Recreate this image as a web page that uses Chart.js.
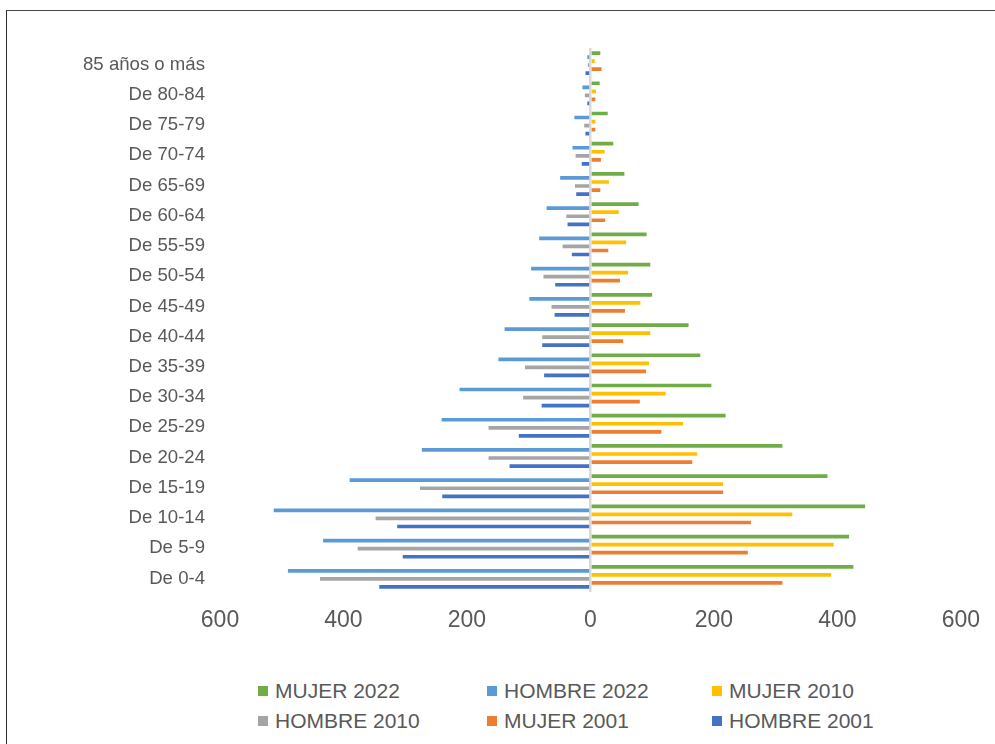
<!DOCTYPE html>
<html>
<head>
<meta charset="utf-8">
<script src="https://cdn.jsdelivr.net/npm/chart.js@4.4.0/dist/chart.umd.min.js"></script>
<style>
  html, body { margin: 0; padding: 0; width: 995px; height: 744px; overflow: hidden; background: #fff; }
  #frame { position: absolute; left: 6px; top: 10px; width: 1100px; height: 900px;
           border-left: 1.5px solid #2b2b2b; border-top: 1.5px solid #4a4a4a; }
  #wrap { position: absolute; left: 0; top: 0; width: 995px; height: 650px; }
  #legend { position: absolute; left: 0; top: 0; font-family: "Liberation Sans", Arial, sans-serif;
            font-size: 21px; color: #595959; }
  .item { position: absolute; display: flex; align-items: center; white-space: nowrap; height: 26px; }
  .box { width: 10px; height: 10px; margin-right: 7px; }
</style>
</head>
<body>
<div id="frame"></div>
<div id="wrap"><canvas id="c" width="995" height="650"></canvas></div>
<div id="legend"></div>
<script>
const categories = ['85 años o más','De 80-84','De 75-79','De 70-74','De 65-69','De 60-64','De 55-59','De 50-54','De 45-49','De 40-44','De 35-39','De 30-34','De 25-29','De 20-24','De 15-19','De 10-14','De 5-9','De 0-4'];

const mujer2022  = [16,15,28,37,55,78,91,97,100,159,178,196,219,311,384,445,419,426];
const hombre2022 = [5,13,26,29,49,71,83,96,99,139,149,212,241,273,390,513,433,490];
const mujer2010  = [7,9,8,23,30,46,58,61,81,97,95,122,150,173,215,327,394,390];
const hombre2010 = [4,9,10,24,25,39,45,76,63,78,106,109,165,165,276,348,377,438];
const mujer2001  = [18,8,8,17,16,24,29,48,56,53,90,80,115,165,215,260,255,311];
const hombre2001 = [8,5,8,14,23,37,30,57,58,78,75,79,116,131,240,313,304,342];

const xTicks = [-600,-400,-200,0,200,400,600];

const seriesNames = ['MUJER 2022','HOMBRE 2022','MUJER 2010','HOMBRE 2010','MUJER 2001','HOMBRE 2001'];
const seriesColors = ['#70AD47','#5B9BD5','#FFC000','#A5A5A5','#ED7D31','#4472C4'];
const seriesValues = [
  mujer2022,
  hombre2022.map(v => -v),
  mujer2010,
  hombre2010.map(v => -v),
  mujer2001,
  hombre2001.map(v => -v)
];

const textColor = '#595959';
const fontFam = '"Liberation Sans", Arial, sans-serif';

new Chart(document.getElementById('c'), {
  type: 'bar',
  data: {
    labels: categories,
    datasets: seriesNames.map((n, i) => ({
      label: n,
      data: seriesValues[i],
      backgroundColor: seriesColors[i],
      borderWidth: 0,
      categoryPercentage: 0.8,
      barPercentage: 0.92
    }))
  },
  options: {
    indexAxis: 'y',
    responsive: false,
    animation: false,
    layout: { padding: { left: 0, top: 48, right: 34, bottom: 0 } },
    plugins: { legend: { display: false }, tooltip: { enabled: false } },
    scales: {
      x: {
        min: -600, max: 600,
        afterBuildTicks: s => { s.ticks = xTicks.map(v => ({ value: v })); },
        afterFit: s => { s.height = 58; },
        border: { display: false },
        grid: {
          drawTicks: false,
          color: c => (c.tick && c.tick.value === 0) ? '#D9D9D9' : 'rgba(0,0,0,0)',
          lineWidth: c => (c.tick && c.tick.value === 0) ? 2.5 : 0
        },
        ticks: {
          padding: 15,
          color: textColor,
          font: { family: fontFam, size: 23 },
          maxRotation: 0,
          callback: v => Math.abs(v).toString()
        }
      },
      y: {
        afterFit: s => { s.width = 220; },
        border: { display: false },
        grid: { display: false, drawTicks: false },
        ticks: {
          padding: 15,
          labelOffset: 1.5,
          color: textColor,
          font: { family: fontFam, size: 18.6 },
          autoSkip: false
        }
      }
    }
  }
});

// Legend (HTML, 3 columns x 2 rows)
const legend = document.getElementById('legend');
const colX = [258, 487, 712];
const rowY = [678, 708];
seriesNames.forEach((n, i) => {
  const d = document.createElement('div');
  d.className = 'item';
  d.style.left = colX[i % 3] + 'px';
  d.style.top = rowY[Math.floor(i / 3)] + 'px';
  const b = document.createElement('span');
  b.className = 'box';
  b.style.background = seriesColors[i];
  const t = document.createElement('span');
  t.textContent = n;
  d.appendChild(b); d.appendChild(t);
  legend.appendChild(d);
});
</script>
</body>
</html>
